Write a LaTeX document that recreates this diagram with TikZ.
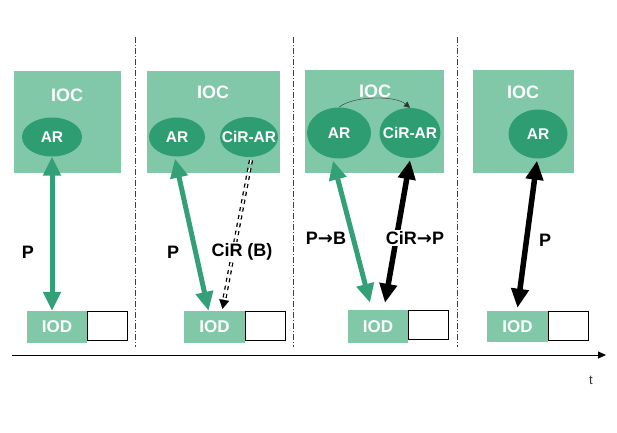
\documentclass[tikz,border=0pt]{standalone}
\usepackage{fontspec}
\setmainfont{Liberation Sans}
\newfontfamily\arrowfont{DejaVu Sans}
\usetikzlibrary{arrows.meta,shapes.geometric,calc}
\definecolor{lgreen}{HTML}{80C8A8}
\definecolor{dgreen}{HTML}{2E9E72}
\definecolor{agreen}{HTML}{34A078}
\newcommand{\rarr}{{\arrowfont\bfseries →}}
\begin{document}
\begin{tikzpicture}[x=1pt,y=-1pt,
  iocbox/.style={rectangle,fill=lgreen,draw=none,inner sep=0pt},
  ioctext/.style={text=white,font=\fontsize{18}{18}\selectfont\bfseries},
  arell/.style={ellipse,fill=dgreen,draw=none,inner sep=0pt,text=white,font=\fontsize{15.5}{15.5}\selectfont\bfseries},
  iodbox/.style={rectangle,fill=lgreen,draw=none,inner sep=0pt,minimum height=32pt,text=white,font=\fontsize{17}{17}\selectfont\bfseries},
  emptybox/.style={rectangle,fill=white,draw=black,line width=0.9pt,inner sep=0pt,minimum width=40pt,minimum height=29pt,anchor=north west},
  garrow/.style={draw=agreen,line width=5pt,{Triangle[width=17pt,length=19pt]}-{Triangle[width=17pt,length=19pt]}},
  barrow/.style={draw=black,line width=5.5pt,{Triangle[width=17pt,length=19pt]}-{Triangle[width=17pt,length=19pt]}},
  lbl/.style={text=black,fill=white,inner sep=1.5pt,font=\fontsize{18}{18}\selectfont\bfseries},
  sep/.style={draw=black!75,line width=1pt,dash pattern=on 6pt off 2pt on 1pt off 2pt}]
\useasboundingbox (0,0) rectangle (617,432);

% separators
\coordinate (s1t) at (135,37); \coordinate (s1b) at (135,347);
\coordinate (s2t) at (293,37); \coordinate (s2b) at (293,347);
\coordinate (s3t) at (457,37); \coordinate (s3b) at (457,347);
\draw[sep] (s1t) -- (s1b);
\draw[sep] (s2t) -- (s2b);
\draw[sep] (s3t) -- (s3b);

% panel 1
\node[iocbox,minimum width=107pt,minimum height=102pt] (ioc1) at (67.5,122) {};
\node[ioctext] (ioct1) at (67,95) {IOC};
\node[arell,minimum width=60pt,minimum height=39pt] (ar1) at (52,137) {\makebox[0pt]{AR}};
\node[iodbox,minimum width=60pt] (iod1) at (57,327) {IOD};
\node[emptybox] (e1) at (iod1.north east) {};
\draw[garrow] (ar1.south) -- (ar1.south |- iod1.north);
\node[lbl] (p1) at (28,252) {P};

% panel 2
\node[iocbox,minimum width=133pt,minimum height=102pt] (ioc2) at (213.5,122) {};
\node[ioctext] (ioct2) at (213,92) {IOC};
\node[arell,minimum width=56pt,minimum height=39pt] (ar2) at (177,137) {\makebox[0pt]{AR}};
\node[arell,minimum width=58pt,minimum height=40pt] (cir2) at (249,137) {\makebox[0pt]{CiR-AR}};
\node[iodbox,minimum width=61pt] (iod2) at (214.5,327) {IOD};
\node[emptybox] (e2) at (iod2.north east) {};
\coordinate (g2a) at ($(ar2.south)+(-2,2)$);
\coordinate (g2b) at ($(iod2.north)+(-6,0)$);
\draw[garrow] (g2a) -- (g2b);
\coordinate (d2a) at ($(cir2.south)+(2,3)$);
\coordinate (d2b) at ($(iod2.north)+(8,-2)$);
\draw[black,line width=1.3pt,double=white,double distance=1.6pt,dash pattern=on 4pt off 4pt,shorten >=8pt] (d2a) -- (d2b);
\draw[-{Triangle[width=10pt,length=9pt]},black,line width=0.1pt,shorten <=44pt] ($(d2a)!0.7!(d2b)$) -- (d2b);
\node[lbl] (p2) at (173,252) {P};
\node[lbl] (c2) at (242,252) {CiR (B)};

% panel 3
\node[iocbox,minimum width=139pt,minimum height=103pt] (ioc3) at (374.5,121.5) {};
\node[ioctext] (ioct3) at (375,91) {IOC};
\node[arell,minimum width=64pt,minimum height=51pt] (ar3) at (339,133) {\makebox[0pt]{AR}};
\node[arell,minimum width=61pt,minimum height=50pt] (cir3) at (410,133) {\makebox[0pt]{CiR-AR}};
\node[iodbox,minimum width=60pt,minimum height=33pt] (iod3) at (378,326.5) {IOD};
\node[emptybox] (e3) at (iod3.north east) {};
\draw[black!80,line width=0.4pt,-{Triangle[width=6pt,length=6pt]}] (ar3.north) .. controls (352,96) and (395,95) .. (cir3.north);
\coordinate (g3a) at ($(ar3.south)+(-6,2)$);
\coordinate (g3b) at ($(iod3.north)+(-8,-7)$);
\draw[garrow] (g3a) -- (g3b);
\coordinate (b3a) at ($(cir3.south)+(0,2)$);
\coordinate (b3b) at ($(iod3.north)+(7,-7)$);
\draw[barrow] (b3a) -- (b3b);
\node[lbl,fill=none] (p3) at (326,238) {P\rarr B};
\node[lbl] (c3) at (415,238) {CiR\rarr P};

% panel 4
\node[iocbox,minimum width=101pt,minimum height=103pt] (ioc4) at (523.5,121.5) {};
\node[ioctext] (ioct4) at (523,92) {IOC};
\node[arell,minimum width=59pt,minimum height=49pt] (ar4) at (538,134) {\makebox[0pt]{AR}};
\node[iodbox,minimum width=61pt,minimum height=31pt] (iod4) at (517.5,326.5) {IOD};
\node[emptybox] (e4) at (iod4.north east) {};
\coordinate (b4a) at ($(ar4.south)+(-1,2)$);
\coordinate (b4b) at ($(iod4.north)+(0,-3)$);
\draw[barrow] (b4a) -- (b4b);
\node[lbl] (p4) at (545,240) {P};

% timeline
\coordinate (t0) at (12,355);
\coordinate (t1) at (606,355);
\draw[black,line width=1pt,-{Triangle[width=7pt,length=8pt]}] (t0) -- (t1);
\node[text=black!80,font=\fontsize{13}{13}\selectfont] (tl) at (591,380) {t};
\end{tikzpicture}
\end{document}
